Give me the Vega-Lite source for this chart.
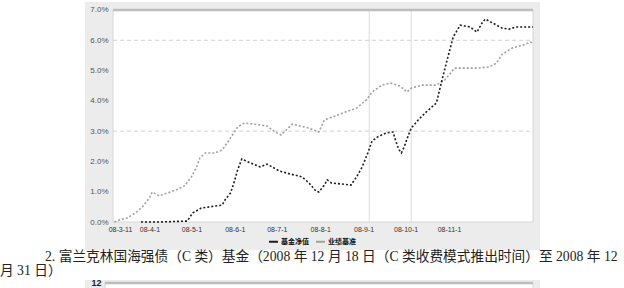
{
  "$schema": "https://vega.github.io/schema/vega-lite/v6.json",
  "background": "white",
  "padding": {"left": 0, "top": 2, "right": 0, "bottom": 0},
  "spacing": 0,
  "config": {"view": {"stroke": null}, "font": "Liberation Sans"},
  "vconcat": [
    {
      "width": 455,
      "height": 248,
      "view": {"fill": "#ececec", "stroke": null},
      "title": {
        "text": "2. 富兰克林国海强债（C 类）基金（2008 年 12 月 18 日（C 类收费模式推出时间）至 2008 年 12",
        "orient": "bottom", "anchor": "start", "frame": "group", "dx": -40, "offset": 0,
        "fontSize": 13.7, "font": "Liberation Serif, Noto Sans CJK SC", "fontWeight": "normal", "color": "#222"
      },
      "encoding": {
        "y": {"type": "quantitative",
          "scale": {"domain": [-0.009245, 0.07264], "nice": false, "zero": false},
          "axis": {"title": null, "orient": "left", "offset": -28, "ticks": false, "domain": false, "grid": false,
            "values": [0, 0.01, 0.02, 0.03, 0.04, 0.05, 0.06, 0.07], "format": ".1%", "labelFontSize": 8, "labelColor": "#555", "labelPadding": 5, "labelOverlap": false}},
        "x": {"type": "temporal",
          "scale": {"type": "utc", "nice": false, "domain": [{"year": 2008, "month": 2, "date": 15, "utc": true}, {"year": 2009, "month": 1, "date": 5, "utc": true}]},
          "axis": {"title": null, "orient": "bottom", "offset": -28, "ticks": false, "domain": false, "grid": false,
            "values": [{"year": 2008, "month": 3, "date": 11, "utc": true}, {"year": 2008, "month": 4, "date": 1, "utc": true}, {"year": 2008, "month": 5, "date": 1, "utc": true}, {"year": 2008, "month": 6, "date": 1, "utc": true}, {"year": 2008, "month": 7, "date": 1, "utc": true}, {"year": 2008, "month": 8, "date": 1, "utc": true}, {"year": 2008, "month": 9, "date": 1, "utc": true}, {"year": 2008, "month": 10, "date": 1, "utc": true}, {"year": 2008, "month": 11, "date": 1, "utc": true}],
            "format": "%y-%-m-%-d", "labelFontSize": 7, "labelColor": "#333", "labelPadding": 3, "labelFlush": false, "labelOverlap": false}}
      },
      "layer": [
        {
          "data": {"values": [{"start": "2008-03-06", "end": "2008-12-31", "lo": 0, "hi": 0.07}]},
          "mark": {"type": "rect", "fill": "white", "stroke": "#d6d6d6", "strokeWidth": 1},
          "encoding": {
            "x": {"field": "start"},
            "x2": {"field": "end"},
            "y": {"field": "lo"},
            "y2": {"field": "hi"}
          }
        },
        {
          "data": {"values": [{"start": "2008-03-06", "end": "2008-12-31", "level": 0.03}, {"start": "2008-03-06", "end": "2008-12-31", "level": 0.06}]},
          "mark": {"type": "rule", "color": "#d2d2d2", "strokeWidth": 1, "strokeDash": [4, 3]},
          "encoding": {
            "y": {"field": "level"},
            "x": {"field": "start"},
            "x2": {"field": "end"}
          }
        },
        {
          "data": {"values": [{"marker": "2008-09-05", "lo": 0, "hi": 0.07}, {"marker": "2008-10-05", "lo": 0, "hi": 0.07}]},
          "mark": {"type": "rule", "color": "#dcdcdc", "strokeWidth": 1},
          "encoding": {
            "x": {"field": "marker"},
            "y": {"field": "lo"},
            "y2": {"field": "hi"}
          }
        },
        {
          "data": {"values": [{"start": "2008-03-06", "end": "2008-12-31", "hi": 0.07}]},
          "mark": {"type": "rule", "color": "#bdbdbd", "strokeWidth": 2.5},
          "encoding": {
            "x": {"field": "start"},
            "x2": {"field": "end"},
            "y": {"field": "hi"}
          }
        },
        {
          "data": {"values": [
            {"date": "2008-03-07", "series": "业绩基准", "r": 0.0000},
            {"date": "2008-03-11", "series": "业绩基准", "r": 0.0007},
            {"date": "2008-03-16", "series": "业绩基准", "r": 0.0013},
            {"date": "2008-03-22", "series": "业绩基准", "r": 0.0030},
            {"date": "2008-03-27", "series": "业绩基准", "r": 0.0050},
            {"date": "2008-04-01", "series": "业绩基准", "r": 0.0079},
            {"date": "2008-04-03", "series": "业绩基准", "r": 0.0099},
            {"date": "2008-04-08", "series": "业绩基准", "r": 0.0086},
            {"date": "2008-04-14", "series": "业绩基准", "r": 0.0096},
            {"date": "2008-04-20", "series": "业绩基准", "r": 0.0106},
            {"date": "2008-04-26", "series": "业绩基准", "r": 0.0119},
            {"date": "2008-05-01", "series": "业绩基准", "r": 0.0149},
            {"date": "2008-05-05", "series": "业绩基准", "r": 0.0185},
            {"date": "2008-05-07", "series": "业绩基准", "r": 0.0211},
            {"date": "2008-05-11", "series": "业绩基准", "r": 0.0228},
            {"date": "2008-05-18", "series": "业绩基准", "r": 0.0228},
            {"date": "2008-05-23", "series": "业绩基准", "r": 0.0238},
            {"date": "2008-05-27", "series": "业绩基准", "r": 0.0264},
            {"date": "2008-06-03", "series": "业绩基准", "r": 0.0314},
            {"date": "2008-06-08", "series": "业绩基准", "r": 0.0327},
            {"date": "2008-06-15", "series": "业绩基准", "r": 0.0323},
            {"date": "2008-06-24", "series": "业绩基准", "r": 0.0317},
            {"date": "2008-06-29", "series": "业绩基准", "r": 0.0300},
            {"date": "2008-07-04", "series": "业绩基准", "r": 0.0287},
            {"date": "2008-07-12", "series": "业绩基准", "r": 0.0323},
            {"date": "2008-07-24", "series": "业绩基准", "r": 0.0310},
            {"date": "2008-07-31", "series": "业绩基准", "r": 0.0297},
            {"date": "2008-08-04", "series": "业绩基准", "r": 0.0337},
            {"date": "2008-08-10", "series": "业绩基准", "r": 0.0347},
            {"date": "2008-08-17", "series": "业绩基准", "r": 0.0360},
            {"date": "2008-08-27", "series": "业绩基准", "r": 0.0376},
            {"date": "2008-09-03", "series": "业绩基准", "r": 0.0403},
            {"date": "2008-09-07", "series": "业绩基准", "r": 0.0429},
            {"date": "2008-09-14", "series": "业绩基准", "r": 0.0452},
            {"date": "2008-09-20", "series": "业绩基准", "r": 0.0459},
            {"date": "2008-09-27", "series": "业绩基准", "r": 0.0449},
            {"date": "2008-10-02", "series": "业绩基准", "r": 0.0429},
            {"date": "2008-10-05", "series": "业绩基准", "r": 0.0442},
            {"date": "2008-10-13", "series": "业绩基准", "r": 0.0452},
            {"date": "2008-10-23", "series": "业绩基准", "r": 0.0452},
            {"date": "2008-10-29", "series": "业绩基准", "r": 0.0469},
            {"date": "2008-11-05", "series": "业绩基准", "r": 0.0508},
            {"date": "2008-11-21", "series": "业绩基准", "r": 0.0508},
            {"date": "2008-11-30", "series": "业绩基准", "r": 0.0512},
            {"date": "2008-12-05", "series": "业绩基准", "r": 0.0525},
            {"date": "2008-12-09", "series": "业绩基准", "r": 0.0554},
            {"date": "2008-12-16", "series": "业绩基准", "r": 0.0574},
            {"date": "2008-12-24", "series": "业绩基准", "r": 0.0584},
            {"date": "2008-12-29", "series": "业绩基准", "r": 0.0594},
            {"date": "2008-12-31", "series": "业绩基准", "r": 0.0591},
            {"date": "2008-03-26", "series": "基金净值", "r": 0.0000},
            {"date": "2008-04-08", "series": "基金净值", "r": 0.0000},
            {"date": "2008-04-28", "series": "基金净值", "r": 0.0003},
            {"date": "2008-05-02", "series": "基金净值", "r": 0.0030},
            {"date": "2008-05-08", "series": "基金净值", "r": 0.0046},
            {"date": "2008-05-14", "series": "基金净值", "r": 0.0050},
            {"date": "2008-05-23", "series": "基金净值", "r": 0.0056},
            {"date": "2008-05-25", "series": "基金净值", "r": 0.0073},
            {"date": "2008-05-29", "series": "基金净值", "r": 0.0096},
            {"date": "2008-06-01", "series": "基金净值", "r": 0.0139},
            {"date": "2008-06-03", "series": "基金净值", "r": 0.0172},
            {"date": "2008-06-06", "series": "基金净值", "r": 0.0208},
            {"date": "2008-06-12", "series": "基金净值", "r": 0.0195},
            {"date": "2008-06-19", "series": "基金净值", "r": 0.0182},
            {"date": "2008-06-24", "series": "基金净值", "r": 0.0191},
            {"date": "2008-07-03", "series": "基金净值", "r": 0.0168},
            {"date": "2008-07-11", "series": "基金净值", "r": 0.0158},
            {"date": "2008-07-19", "series": "基金净值", "r": 0.0149},
            {"date": "2008-07-24", "series": "基金净值", "r": 0.0129},
            {"date": "2008-07-29", "series": "基金净值", "r": 0.0102},
            {"date": "2008-07-31", "series": "基金净值", "r": 0.0099},
            {"date": "2008-08-04", "series": "基金净值", "r": 0.0122},
            {"date": "2008-08-06", "series": "基金净值", "r": 0.0139},
            {"date": "2008-08-09", "series": "基金净值", "r": 0.0129},
            {"date": "2008-08-23", "series": "基金净值", "r": 0.0122},
            {"date": "2008-08-27", "series": "基金净值", "r": 0.0149},
            {"date": "2008-08-31", "series": "基金净值", "r": 0.0182},
            {"date": "2008-09-04", "series": "基金净值", "r": 0.0228},
            {"date": "2008-09-07", "series": "基金净值", "r": 0.0267},
            {"date": "2008-09-11", "series": "基金净值", "r": 0.0281},
            {"date": "2008-09-17", "series": "基金净值", "r": 0.0294},
            {"date": "2008-09-22", "series": "基金净值", "r": 0.0297},
            {"date": "2008-09-24", "series": "基金净值", "r": 0.0267},
            {"date": "2008-09-26", "series": "基金净值", "r": 0.0241},
            {"date": "2008-09-28", "series": "基金净值", "r": 0.0228},
            {"date": "2008-09-30", "series": "基金净值", "r": 0.0248},
            {"date": "2008-10-02", "series": "基金净值", "r": 0.0274},
            {"date": "2008-10-05", "series": "基金净值", "r": 0.0310},
            {"date": "2008-10-10", "series": "基金净值", "r": 0.0337},
            {"date": "2008-10-15", "series": "基金净值", "r": 0.0360},
            {"date": "2008-10-23", "series": "基金净值", "r": 0.0393},
            {"date": "2008-10-27", "series": "基金净值", "r": 0.0469},
            {"date": "2008-10-31", "series": "基金净值", "r": 0.0541},
            {"date": "2008-11-04", "series": "基金净值", "r": 0.0611},
            {"date": "2008-11-09", "series": "基金净值", "r": 0.0650},
            {"date": "2008-11-16", "series": "基金净值", "r": 0.0644},
            {"date": "2008-11-21", "series": "基金净值", "r": 0.0627},
            {"date": "2008-11-25", "series": "基金净值", "r": 0.0660},
            {"date": "2008-11-27", "series": "基金净值", "r": 0.0670},
            {"date": "2008-12-05", "series": "基金净值", "r": 0.0650},
            {"date": "2008-12-09", "series": "基金净值", "r": 0.0640},
            {"date": "2008-12-14", "series": "基金净值", "r": 0.0637},
            {"date": "2008-12-19", "series": "基金净值", "r": 0.0644},
            {"date": "2008-12-31", "series": "基金净值", "r": 0.0644}
          ]},
          "mark": {"type": "line", "strokeWidth": 1.6, "strokeDash": [2, 2]},
          "encoding": {
            "x": {"field": "date"},
            "y": {"field": "r"},
            "color": {"field": "series", "type": "nominal",
              "scale": {"domain": ["基金净值", "业绩基准"], "range": ["#1c1c1c", "#a0a0a0"]},
              "legend": {"title": null, "orient": "none", "legendX": 183, "legendY": 234, "direction": "horizontal",
                "symbolType": "stroke", "symbolSize": 80, "symbolStrokeWidth": 2, "labelFontSize": 7, "labelFont": "Noto Sans CJK SC",
                "labelColor": "#111", "labelFontWeight": "bold", "columnPadding": 3, "labelOffset": 2, "padding": 0}}
          }
        }
      ]
    },
    {
      "width": 455,
      "height": 200,
      "view": {"fill": "#ececec", "stroke": null},
      "title": {
        "text": "月 31 日）",
        "orient": "top", "anchor": "start", "frame": "group", "dx": -85, "offset": 0,
        "fontSize": 13.7, "font": "Liberation Serif, Noto Sans CJK SC", "fontWeight": "normal", "color": "#222"
      },
      "data": {"values": [{"start": "2008-12-18", "end": "2008-12-31", "lo": 0, "hi": 12}]},
      "encoding": {
        "x": {"field": "start", "type": "temporal",
          "scale": {"type": "utc", "nice": false, "domain": [{"year": 2008, "month": 12, "date": 17, "hours": 9, "minutes": 25, "utc": true}, {"year": 2008, "month": 12, "date": 31, "hours": 5, "minutes": 6, "utc": true}]},
          "axis": null},
        "x2": {"field": "end"}
      },
      "layer": [
        {
          "mark": {"type": "rect", "fill": "white", "stroke": "#d6d6d6", "strokeWidth": 1},
          "encoding": {
            "y": {"field": "lo", "type": "quantitative",
              "scale": {"domain": [-1.133, 12.2], "nice": false, "zero": false},
              "axis": {"title": null, "orient": "left", "offset": -20, "ticks": false, "domain": false, "grid": false,
                "values": [12], "format": "d", "labelFontSize": 9, "labelFontWeight": "bold", "labelColor": "#222", "labelPadding": 4, "labelOffset": -1, "labelOverlap": false}},
            "y2": {"field": "hi"}
          }
        },
        {
          "mark": {"type": "rule", "color": "#bdbdbd", "strokeWidth": 2.5},
          "encoding": {
            "y": {"field": "hi", "type": "quantitative", "scale": {"domain": [-1.133, 12.2], "nice": false, "zero": false},
              "axis": {"title": null, "orient": "left", "offset": -20, "ticks": false, "domain": false, "grid": false,
                "values": [12], "format": "d", "labelFontSize": 9, "labelFontWeight": "bold", "labelColor": "#222", "labelPadding": 4, "labelOffset": -1, "labelOverlap": false}}
          }
        }
      ]
    }
  ]
}
